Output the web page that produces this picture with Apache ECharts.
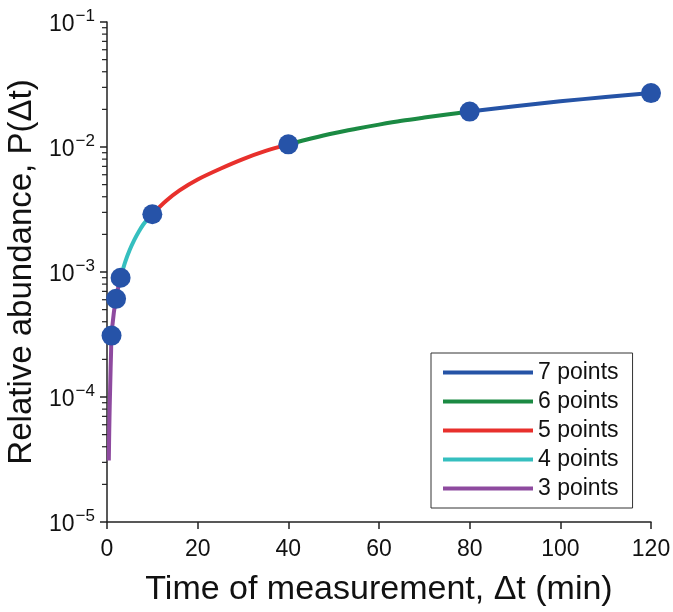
<!DOCTYPE html>
<html><head><meta charset="utf-8">
<script src="https://cdn.jsdelivr.net/npm/echarts@6/dist/echarts.min.js"></script>
<style>html,body{margin:0;padding:0;background:#fff}#c{width:673px;height:612px}</style>
</head><body><div id="c"></div>
<script>
// measured points (time in min, relative abundance)
const pointsT = [1, 2, 3, 10, 40, 80, 120];
const pointsP = [3.1e-4, 6.1e-4, 9.0e-4, 2.9e-3, 1.05e-2, 1.92e-2, 2.7e-2];

// fitted curve segments
const curve3 = [[0.4, 3.1e-5], [0.5, 5.5e-5], [0.6, 8.5e-5], [0.7, 1.2e-4], [0.8, 1.7e-4], [0.9, 2.3e-4], [1, 3.1e-4], [1.5, 4.7e-4], [2, 6.1e-4], [2.5, 7.6e-4], [3, 9.0e-4]];
const curve4 = [[3, 9.0e-4], [4, 1.2e-3], [5, 1.5e-3], [6, 1.8e-3], [7, 2.1e-3], [8, 2.4e-3], [9, 2.65e-3], [10, 2.9e-3]];
const curve5 = [[10, 2.9e-3], [13, 3.7e-3], [16, 4.5e-3], [20, 5.5e-3], [25, 6.7e-3], [30, 8.0e-3], [35, 9.3e-3], [40, 1.05e-2]];
const curve6 = [[40, 1.05e-2], [45, 1.17e-2], [50, 1.29e-2], [55, 1.4e-2], [60, 1.51e-2], [65, 1.62e-2], [70, 1.72e-2], [75, 1.82e-2], [80, 1.92e-2]];
const curve7 = [[80, 1.92e-2], [90, 2.12e-2], [100, 2.32e-2], [110, 2.51e-2], [120, 2.7e-2]];

const seriesNames = ['7 points', '6 points', '5 points', '4 points', '3 points'];
const seriesColors = ['#2553a6', '#1b8a43', '#e8302c', '#35bfbf', '#8e4a9f'];
const seriesData = [curve7, curve6, curve5, curve4, curve3];

const xTicks = [0, 20, 40, 60, 80, 100, 120];
const yMin = 1e-5, yMax = 1e-1;
const minorValues = [];
for (let e = -5; e < -1; e++) for (let m = 2; m <= 9; m++) minorValues.push(m * Math.pow(10, e));

const chart = echarts.init(document.getElementById('c'));
const font = 'Liberation Sans, Arial, sans-serif';

const lineSeries = seriesNames.map((n, i) => ({
  name: n, type: 'line', data: seriesData[i], smooth: 0.3, showSymbol: false, symbol: 'none',
  lineStyle: { color: seriesColors[i], width: 4 }, itemStyle: { color: seriesColors[i] },
  z: 2, animation: false
}));

chart.setOption({
  animation: false,
  backgroundColor: '#fff',
  grid: { left: 107, right: 22, top: 22, bottom: 90, containLabel: false, outerBoundsMode: 'none' },
  legend: {
    data: seriesNames, orient: 'vertical', left: 431, top: 353,
    borderColor: '#333', borderWidth: 1, padding: [8, 14, 8, 12],
    itemWidth: 90, itemHeight: 4, itemGap: 6, icon: 'rect',
    textStyle: { fontFamily: font, fontSize: 23, color: '#111' }
  },
  xAxis: {
    type: 'value', min: 0, max: 120, interval: 20,
    name: 'Time of measurement, \u0394t (min)', nameLocation: 'middle', nameGap: 51,
    nameTextStyle: { fontFamily: font, fontSize: 34, color: '#111' },
    axisLine: { lineStyle: { color: '#222', width: 1.5 } },
    axisTick: { show: true, inside: false, length: 7, lineStyle: { color: '#222', width: 1.5 } },
    axisLabel: { fontFamily: font, fontSize: 23, color: '#111', margin: 16 },
    splitLine: { show: false }
  },
  yAxis: {
    type: 'log', logBase: 10, min: yMin, max: yMax,
    name: 'Relative abundance, P(\u0394t)', nameLocation: 'middle', nameGap: 53,
    nameTextStyle: { fontFamily: font, fontSize: 33, color: '#111' },
    axisLine: { show: true, lineStyle: { color: '#222', width: 1.5 } },
    axisTick: { show: true, inside: false, length: 7, lineStyle: { color: '#222', width: 1.5 } },
    axisLabel: {
      margin: 12,
      formatter: v => '{b|10}{s|\u2212' + Math.round(-Math.log10(v)) + '}',
      rich: {
        b: { fontFamily: font, fontSize: 23, color: '#111', padding: [6, 0, 0, 0] },
        s: { fontFamily: font, fontSize: 17, color: '#111', padding: [0, 0, 11, 1] }
      }
    },
    splitLine: { show: false }
  },
  series: lineSeries.concat([
    {
      name: 'data', type: 'scatter', data: pointsT.map((t, i) => [t, pointsP[i]]),
      symbolSize: 20, itemStyle: { color: '#2653a8', opacity: 1 }, z: 5
    },
    {
      name: 'minor', type: 'custom', clip: false, silent: true,
      data: minorValues.map(v => [0, v]),
      renderItem: (params, api) => {
        const p = api.coord([0, api.value(1)]);
        return { type: 'line', shape: { x1: p[0] - 5, y1: p[1], x2: p[0], y2: p[1] },
                 style: { stroke: '#222', lineWidth: 1.2 } };
      }
    }
  ])
});
</script></body></html>
